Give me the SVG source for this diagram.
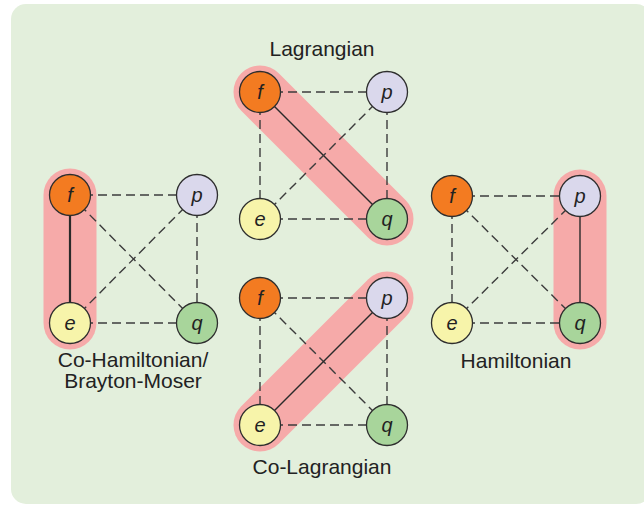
<svg xmlns="http://www.w3.org/2000/svg" width="644" height="507" viewBox="0 0 644 507">
<defs>
<style>
.bg{fill:#e3efdc}
.hl{fill:none;stroke:#f6aaa9;stroke-width:53;stroke-linecap:round}
.d{stroke:#3c3c3c;stroke-width:1.4;stroke-dasharray:9 5;fill:none}
.s{stroke:#2a2a2a;stroke-width:1.4;fill:none}
.s2{stroke:#2a2a2a;stroke-width:2.2;fill:none}
.n{stroke:#2e2e2e;stroke-width:1.3}
.f{fill:#f37b21}.p{fill:#dad8ec}.e{fill:#f7f4aa}.q{fill:#a8d59b}
.nt{font-family:"Liberation Sans",Arial,sans-serif;font-style:italic;font-size:20px;fill:#222;text-anchor:middle}
.lb{font-family:"Liberation Sans",Arial,sans-serif;font-size:21px;fill:#222;text-anchor:middle}
</style>
</defs>
<rect class="bg" x="11" y="4" width="640" height="500" rx="15"/>
<g id="highlights">
<line class="hl" x1="70" y1="195" x2="70" y2="323"/>
<line class="hl" x1="580" y1="196" x2="580" y2="323"/>
<line class="hl" x1="260" y1="92" x2="387" y2="219"/>
<line class="hl" x1="260" y1="425" x2="387" y2="298"/>
</g>
<g id="connectors">
<!-- Co-Hamiltonian -->
<line class="d" x1="70" y1="195" x2="197" y2="195"/>
<line class="s2" x1="70" y1="195" x2="70" y2="323"/>
<line class="d" x1="197" y1="195" x2="197" y2="323"/>
<line class="d" x1="70" y1="323" x2="197" y2="323"/>
<line class="d" x1="70" y1="195" x2="197" y2="323"/>
<line class="d" x1="70" y1="323" x2="197" y2="195"/>
<!-- Lagrangian -->
<line class="d" x1="260" y1="92" x2="387" y2="92"/>
<line class="d" x1="260" y1="92" x2="260" y2="219"/>
<line class="d" x1="387" y1="92" x2="387" y2="219"/>
<line class="d" x1="260" y1="219" x2="387" y2="219"/>
<line class="s" x1="260" y1="92" x2="387" y2="219"/>
<line class="d" x1="260" y1="219" x2="387" y2="92"/>
<!-- Hamiltonian -->
<line class="d" x1="452" y1="196" x2="580" y2="196"/>
<line class="d" x1="452" y1="196" x2="452" y2="323"/>
<line class="s" x1="580" y1="196" x2="580" y2="323"/>
<line class="d" x1="452" y1="323" x2="580" y2="323"/>
<line class="d" x1="452" y1="196" x2="580" y2="323"/>
<line class="d" x1="452" y1="323" x2="580" y2="196"/>
<!-- Co-Lagrangian -->
<line class="d" x1="260" y1="298" x2="387" y2="298"/>
<line class="d" x1="260" y1="298" x2="260" y2="425"/>
<line class="d" x1="387" y1="298" x2="387" y2="425"/>
<line class="d" x1="260" y1="425" x2="387" y2="425"/>
<line class="d" x1="260" y1="298" x2="387" y2="425"/>
<line class="s" x1="260" y1="425" x2="387" y2="298"/>
</g>
<g id="ch-f"><circle class="n f" cx="70" cy="195" r="20.5"/><text class="nt" x="70" y="202">f</text></g>
<g id="ch-p"><circle class="n p" cx="197" cy="195" r="20.5"/><text class="nt" x="197" y="202">p</text></g>
<g id="ch-e"><circle class="n e" cx="70" cy="323" r="20.5"/><text class="nt" x="70" y="330">e</text></g>
<g id="ch-q"><circle class="n q" cx="197" cy="323" r="20.5"/><text class="nt" x="197" y="330">q</text></g>
<g id="lag-f"><circle class="n f" cx="260" cy="92" r="20.5"/><text class="nt" x="260" y="99">f</text></g>
<g id="lag-p"><circle class="n p" cx="387" cy="92" r="20.5"/><text class="nt" x="387" y="99">p</text></g>
<g id="lag-e"><circle class="n e" cx="260" cy="219" r="20.5"/><text class="nt" x="260" y="226">e</text></g>
<g id="lag-q"><circle class="n q" cx="387" cy="219" r="20.5"/><text class="nt" x="387" y="226">q</text></g>
<g id="ham-f"><circle class="n f" cx="452" cy="196" r="20.5"/><text class="nt" x="452" y="203">f</text></g>
<g id="ham-p"><circle class="n p" cx="580" cy="196" r="20.5"/><text class="nt" x="580" y="203">p</text></g>
<g id="ham-e"><circle class="n e" cx="452" cy="323" r="20.5"/><text class="nt" x="452" y="330">e</text></g>
<g id="ham-q"><circle class="n q" cx="580" cy="323" r="20.5"/><text class="nt" x="580" y="330">q</text></g>
<g id="colag-f"><circle class="n f" cx="260" cy="298" r="20.5"/><text class="nt" x="260" y="305">f</text></g>
<g id="colag-p"><circle class="n p" cx="387" cy="298" r="20.5"/><text class="nt" x="387" y="305">p</text></g>
<g id="colag-e"><circle class="n e" cx="260" cy="425" r="20.5"/><text class="nt" x="260" y="432">e</text></g>
<g id="colag-q"><circle class="n q" cx="387" cy="425" r="20.5"/><text class="nt" x="387" y="432">q</text></g>
<g id="labels">
<text class="lb" x="322" y="56">Lagrangian</text>
<text class="lb" x="133" y="367">Co-Hamiltonian/</text>
<text class="lb" x="133" y="388">Brayton-Moser</text>
<text class="lb" x="516" y="368">Hamiltonian</text>
<text class="lb" x="322" y="474">Co-Lagrangian</text>
</g>
</svg>
